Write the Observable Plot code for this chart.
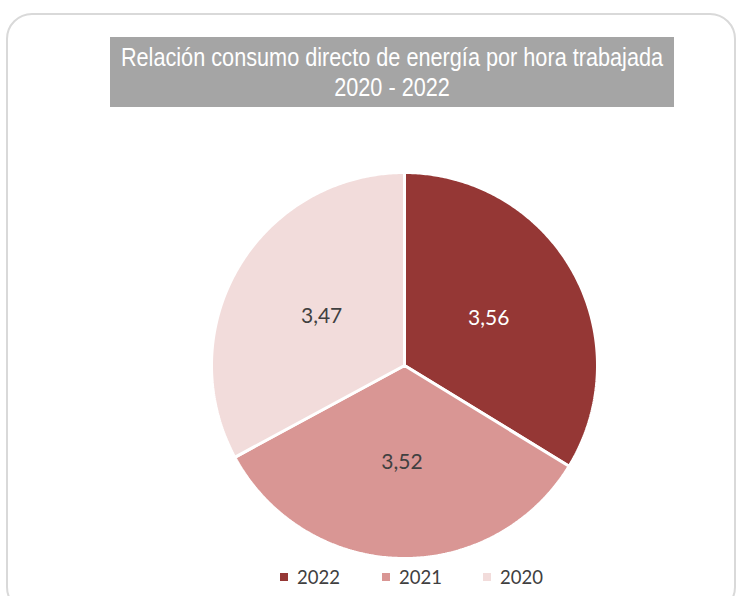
<!DOCTYPE html>
<html>
<head>
<meta charset="utf-8">
<script src="https://cdn.jsdelivr.net/npm/d3@7"></script>
<script src="https://cdn.jsdelivr.net/npm/@observablehq/plot@0.6"></script>
<style>
  html, body { margin: 0; padding: 0; background: #fff; }
  #page { position: relative; width: 740px; height: 596px; overflow: hidden; background: #fff; }
  #card { position: absolute; left: 6px; top: 13px; width: 730px; height: 600px; border: 2px solid #d9d9d9; border-radius: 26px; box-sizing: border-box; }
  #titlebox { position: absolute; left: 110px; top: 37px; width: 564px; height: 70px; background: #a5a5a5; }
  #title { position: absolute; left: -100px; top: 5px; width: 764px; color: #fff;
    font-family: "Liberation Sans", Arial, sans-serif; font-size: 25.5px; line-height: 30px; text-align: center;
    transform: scaleX(0.85); transform-origin: 382px 0; white-space: nowrap; }
  #chart { position: absolute; left: 0; top: 165px; }
  #legend { position: absolute; top: 566px; left: 0; width: 740px; font-family: Lato, "Open Sans", sans-serif; font-size: 18.5px; color: #404040; }
  .item { position: absolute; top: 0; display: flex; align-items: center; }
  .sw { width: 8px; height: 8px; margin-right: 9px; }
</style>
</head>
<body>
<div id="page">
  <div id="card"></div>
  <div id="titlebox"><div id="title">Relación consumo directo de energía por hora trabajada<br>2020 - 2022</div></div>
  <div id="chart"></div>
  <div id="legend"></div>
</div>
<script>
const years = ["2022", "2021", "2020"];
const values = [3.56, 3.52, 3.47];
const labels = ["3,56", "3,52", "3,47"];
const colors = ["#953735", "#D99694", "#F2DCDB"];
const labelColors = ["#ffffff", "#404040", "#404040"];

const width = 740, height = 400, cx = 404, cy = 200, R = 193;

const arcs = d3.pie().sort(null).value(d => d.value)(years.map((y, i) => ({year: y, value: values[i], label: labels[i]})));

// polygon points for each slice (angles measured clockwise from 12 o'clock)
const pts = [];
for (const a of arcs) {
  pts.push({year: a.data.year, x: 0, y: 0});
  const n = Math.max(2, Math.ceil((a.endAngle - a.startAngle) / 0.01));
  for (let k = 0; k <= n; k++) {
    const t = a.startAngle + (a.endAngle - a.startAngle) * k / n;
    pts.push({year: a.data.year, x: Math.sin(t), y: Math.cos(t)});
  }
}
const lab = arcs.map((a, i) => {
  const m = (a.startAngle + a.endAngle) / 2;
  return {year: a.data.year, label: a.data.label, x: 0.5 * Math.sin(m), y: 0.5 * Math.cos(m), c: labelColors[i]};
});

const chart = Plot.plot({
  width, height,
  margin: 0,
  x: {domain: [-cx / R, (width - cx) / R], axis: null},
  y: {domain: [-(height - cy) / R, cy / R], axis: null},
  color: {domain: years, range: colors},
  marks: [
    Plot.line(pts, {x: "x", y: "y", z: "year", fill: "year", stroke: "#fff", strokeWidth: 3, curve: "linear-closed", strokeLinejoin: "miter"}),
    Plot.text(lab, {x: "x", y: "y", text: "label", fill: d => d.c, fontSize: 21, fontFamily: "Lato, 'Open Sans', sans-serif"})
  ]
});
document.getElementById("chart").appendChild(chart);

const legendX = [280, 382, 483];
const legend = document.getElementById("legend");
years.forEach((y, i) => {
  const it = document.createElement("div");
  it.className = "item";
  it.style.left = legendX[i] + "px";
  it.innerHTML = `<span class="sw" style="background:${colors[i]}"></span><span>${y}</span>`;
  legend.appendChild(it);
});
</script>
</body>
</html>
